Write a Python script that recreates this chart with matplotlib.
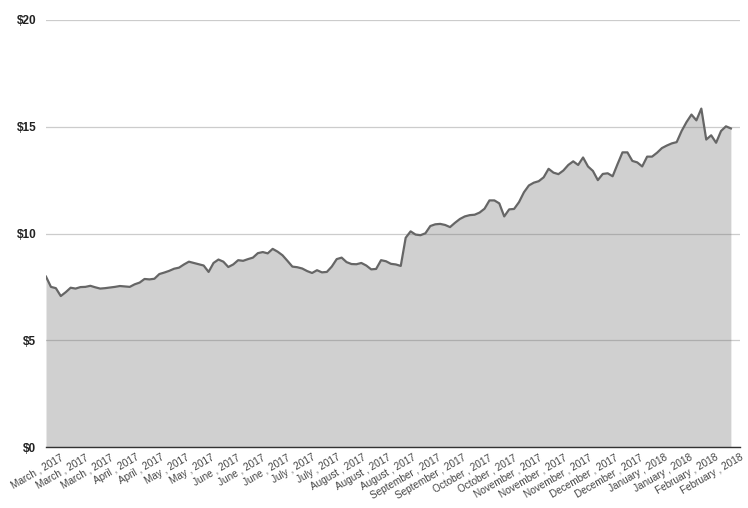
import numpy as np
import matplotlib
matplotlib.use("Agg")
import matplotlib.pyplot as plt

# price values (evenly spaced samples, Mar 2017 - Feb 2018)
prices = [
    7.98, 7.50, 7.44, 7.07, 7.25, 7.46, 7.42, 7.49, 7.50, 7.55,
    7.48, 7.42, 7.44, 7.47, 7.50, 7.54, 7.52, 7.50, 7.62, 7.70,
    7.87, 7.85, 7.88, 8.10, 8.17, 8.25, 8.35, 8.40, 8.55, 8.68,
    8.62, 8.56, 8.50, 8.20, 8.62, 8.78, 8.68, 8.43, 8.55, 8.75,
    8.72, 8.80, 8.87, 9.08, 9.13, 9.07, 9.28, 9.15, 8.98, 8.72,
    8.45, 8.42, 8.36, 8.24, 8.15, 8.28, 8.18, 8.20, 8.45, 8.80,
    8.87, 8.66, 8.57, 8.56, 8.62, 8.50, 8.32, 8.34, 8.75, 8.70,
    8.58, 8.55, 8.48, 9.80, 10.10, 9.95, 9.92, 10.01, 10.35, 10.43,
    10.45, 10.40, 10.30, 10.50, 10.68, 10.80, 10.86, 10.88, 10.98, 11.16,
    11.55, 11.55, 11.41, 10.80, 11.13, 11.15, 11.47, 11.93, 12.25, 12.38,
    12.45, 12.63, 13.03, 12.85, 12.78, 12.95, 13.21, 13.38, 13.21, 13.56,
    13.14, 12.93, 12.50, 12.79, 12.82, 12.68, 13.25, 13.80, 13.80, 13.40,
    13.33, 13.14, 13.60, 13.60, 13.78, 14.00, 14.12, 14.22, 14.28, 14.80,
    15.22, 15.57, 15.30, 15.85, 14.40, 14.60, 14.25, 14.80, 15.02, 14.92,
]

months = ["March", "March", "March", "April", "April", "May", "May",
          "June", "June", "June", "July", "July", "August", "August",
          "August", "September", "September", "October", "October",
          "November", "November", "November", "December", "December",
          "January", "January", "February", "February"]
years = [2017] * 24 + [2018] * 4
tick_labels = [f"{m} , {y}" for m, y in zip(months, years)]

y_ticks = [0, 5, 10, 15, 20]

fig = plt.figure(figsize=(7.48, 5.08), dpi=100)
ax = fig.add_axes([46 / 748, 61 / 508, 694 / 748, 427 / 508])

x = np.arange(len(prices))
ax.fill_between(x, prices, 0, color="#666666", alpha=0.3, lw=0, zorder=2)
ax.plot(x, prices, color="#666666", lw=1.6, zorder=3)

ax.set_xlim(0, len(prices) - 1 + 1.85)
ax.set_ylim(0, 20)

ax.set_yticks(y_ticks)
ax.set_yticklabels([f"${v}" for v in y_ticks], fontsize=8.5,
                   fontweight="bold", color="#222222", family="Liberation Sans")
ax.yaxis.grid(True, color="#cccccc", lw=0.9, zorder=1)
ax.tick_params(axis="y", length=0, pad=7)

tick_pos = np.linspace(2.8, len(prices) - 1 + 1.85, len(tick_labels))
ax.set_xticks(tick_pos)
ax.set_xticklabels(tick_labels, rotation=30, ha="right", va="top",
                   rotation_mode="anchor", fontsize=7.2, color="#444444",
                   family="Liberation Sans")
ax.tick_params(axis="x", length=0, pad=4)

for side in ["top", "right", "left"]:
    ax.spines[side].set_visible(False)
ax.spines["bottom"].set_color("#333333")
ax.spines["bottom"].set_linewidth(1.0)
ax.spines["bottom"].set_zorder(4)
ax.set_axisbelow(True)

fig.savefig("out.png", dpi=100)
